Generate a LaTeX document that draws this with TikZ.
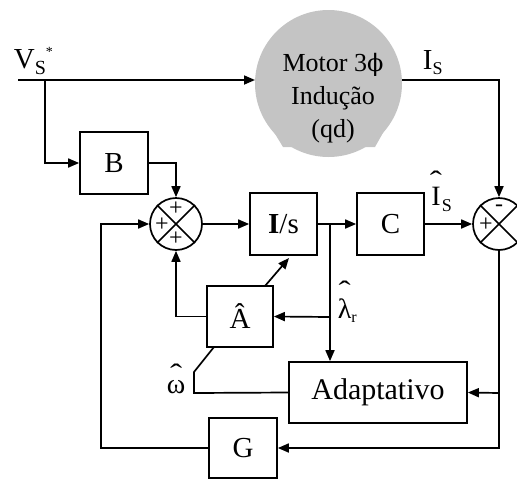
\documentclass[tikz,border=0pt]{standalone}
\usepackage{fontspec}
\usepackage{graphicx}
\setmainfont{Liberation Serif}
\newfontfamily\phifont{DejaVu Serif}
\usetikzlibrary{arrows.meta}
\definecolor{motorgray}{RGB}{196,196,196}
\newcommand{\hatover}[2]{\vbox{\offinterlineskip\halign{\hfil##\hfil\cr\scalebox{1.3}[1]{\char"02C6}\cr\noalign{\kern#1}#2\cr}}}
\begin{document}
\begin{tikzpicture}[x=1pt,y=-1pt,
  font=\fontsize{29}{31}\selectfont,
  line width=1.7pt,
  blk/.style={draw,line width=1.7pt,inner sep=0pt},
  sumc/.style={draw,circle,line width=1.7pt,minimum size=52pt,inner sep=0pt},
  arr/.style={-{Triangle[length=11pt,width=9pt]}},
  sgn/.style={font=\fontsize{24}{24}\selectfont,inner sep=0pt},
  lbl/.style={inner sep=0pt,anchor=base west}]
\useasboundingbox (0,0) rectangle (517,480);
% motor
\fill[motorgray] (328.5,83.5) circle[radius=73.5pt];
\fill[motorgray] (269,124) -- (283,147) -- (375,147) -- (388,124) -- cycle;
\node[align=center,font=\fontsize{26}{33}\selectfont,inner sep=0pt] (motor) at (333,98)
  {Motor 3{\phifont\fontsize{24}{24}\selectfont\char"03D5}\\Indução\\(qd)};
\coordinate (motorL) at (255,80);
\coordinate (motorR) at (402,80);
% blocks
\node[blk,minimum width=68pt,minimum height=62pt] (B) at (114,163) {B};
\node[blk,minimum width=67pt,minimum height=62pt] (Is) at (283.5,224) {\textbf{I}/s};
\node[blk,minimum width=67pt,minimum height=62pt] (C) at (390.5,224) {C};
\node[blk,minimum width=66pt,minimum height=61pt] (Ah) at (240,316.5) {Â};
\node[blk,minimum width=178pt,minimum height=61pt,font=\fontsize{30}{32}\selectfont] (Ad) at (378,392.5) {Adaptativo};
\node[blk,minimum width=68pt,minimum height=60pt] (G) at (243,448) {G};
\node[sumc] (s1) at (176,224) {};
\node[sumc] (s2) at (499,224) {};
\draw (s1.north west) -- (s1.south east) (s1.north east) -- (s1.south west);
\draw (s2.north west) -- (s2.south east) (s2.north east) -- (s2.south west);
\node[sgn] (p1) at (176,209) {+};
\node[sgn] (p2) at (162,225) {+};
\node[sgn] (p3) at (176,239) {+};
\node[sgn] (m1) at (499,208) {-};
\node[sgn] (p4) at (486,225) {+};
% labels
\node[lbl] (vs) at (13,68) {V\raisebox{-6pt}{\fontsize{20}{20}\selectfont S}\raisebox{12pt}{\fontsize{14}{14}\selectfont *}};
\node[lbl] (isl) at (422,69) {I\raisebox{-5pt}{\fontsize{18}{18}\selectfont S}};
\node[lbl,font=\fontsize{28}{30}\selectfont] (ishl) at (429,205) {\hatover{-4pt}{I}\raisebox{-6pt}{\fontsize{18}{18}\selectfont S}};
\node[lbl,font=\fontsize{28}{30}\selectfont] (laml) at (337,318) {\hatover{-2pt}{λ}\raisebox{-4pt}{\fontsize{16}{16}\selectfont r}};
\node[lbl,font=\fontsize{28}{30}\selectfont] (oml) at (166,393) {\hatover{-4pt}{ω}};
% coordinates
\coordinate (vin) at (18,80);
\coordinate (br1) at (45,80);
\coordinate (br2) at (330,224);
\coordinate (br3) at (330,317);
\coordinate (br4) at (499,393);
\coordinate (fb) at (101,224);
\coordinate (d1) at (265,286);
\coordinate (d2) at (289,258);
\coordinate (w1) at (194,393);
\coordinate (w2) at (194,372);
\coordinate (w3) at (214,347);
% connectors
\draw[arr] (vin) -- (motorL);
\draw[arr] (br1) |- (B.west);
\draw[arr] (B.east) -| (s1.north);
\draw[arr] (s1.east) -- (Is.west);
\draw[arr] (Is.east) -- (C.west);
\draw[arr] (C.east) -- (s2.west);
\draw[arr] (motorR) -| (s2.north);
\draw[arr] (br2) -- (br2 |- Ad.north);
\draw[arr] (br3) -- (Ah.east);
\draw[arr] (Ah.west) -| (s1.south);
\draw[arr] (d1) -- (d2);
\draw[arr] (s2.south) |- (G.east);
\draw[arr] (br4) -- (Ad.east);
\draw[arr] (G.west) -| (fb) -- (s1.west);
\draw (Ad.west) -- (w1) -- (w2) -- (w3);
\end{tikzpicture}
\end{document}
